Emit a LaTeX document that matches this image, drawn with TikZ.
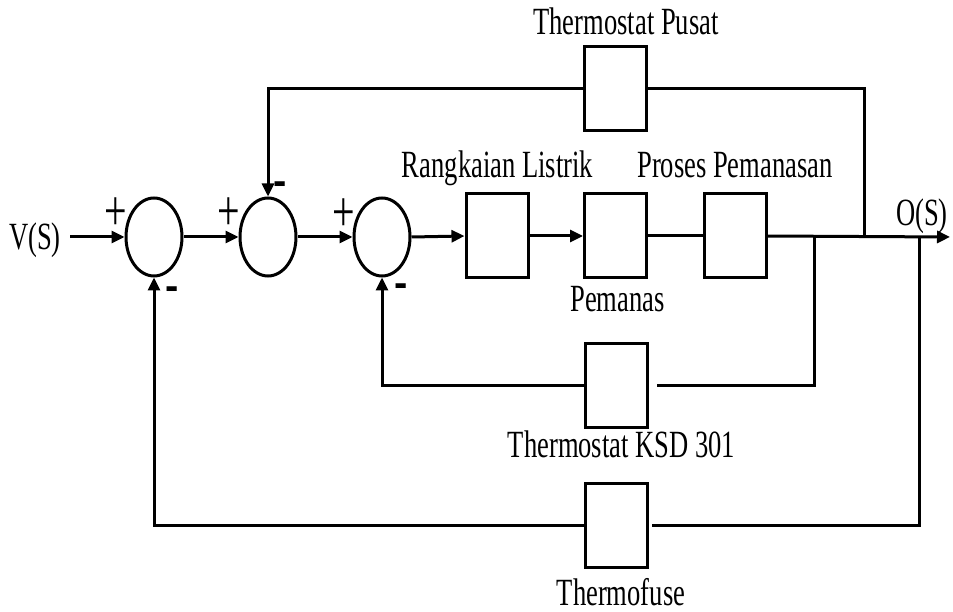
\documentclass[tikz,border=0pt]{standalone}
\usepackage{fontspec}
\setmainfont{Liberation Serif}[FakeStretch=0.69]
\newfontfamily\minusfont{Liberation Sans}
\usetikzlibrary{arrows.meta,shapes.geometric}
\begin{document}
\begin{tikzpicture}[x=1pt,y=-1pt,
  every node/.style={font=\fontsize{38.5}{42}\selectfont},
  line/.style={line width=3pt, line join=miter},
  arr/.style={line width=3pt, line join=miter, -{Triangle[length=13pt,width=12pt]}},
  sumj/.style={draw, ellipse, line width=3pt, minimum width=56pt, minimum height=78pt, inner sep=0pt},
  blk/.style={draw, rectangle, line width=3pt, minimum width=62pt, minimum height=84pt, inner sep=0pt},
  lbl/.style={anchor=base, inner sep=0pt},
  plus/.style={font=\fontsize{58}{58}\selectfont, inner sep=0pt},
  minus/.style={font=\minusfont\bfseries\fontsize{40}{40}\selectfont, inner sep=0pt}
]
\useasboundingbox (0,0) rectangle (953,612);

% summing junctions
\node[sumj] (c1) at (154,237) {};
\node[sumj] (c2) at (268,237) {};
\node[sumj] (c3) at (382,237) {};

% forward blocks
\node[blk] (b1) at (497,236) {};
\node[blk] (b2) at (615.5,236) {};
\node[blk] (b3) at (735,236) {};

% feedback blocks
\node[blk] (pusat) at (615,88.5) {};
\node[blk] (ksd) at (616,385) {};
\node[blk] (fuse) at (616.5,525) {};

% terminals and branch points
\node[lbl] (vin) at (35,250) {V(S)};
\coordinate (vstart) at (70,237);
\node[lbl] (vout) at (922,226) {O(S)};
\coordinate (oend) at (950,237);
\coordinate (p1) at (814,237);
\coordinate (p2) at (864,237);
\coordinate (p3) at (919,237);

% labels
\node[lbl] (lpusat) at (626,35) {Thermostat Pusat};
\node[lbl] (lb1) at (497.5,178) {Rangkaian Listrik};
\node[lbl] (lb3) at (735,178) {Proses Pemanasan};
\node[lbl] (lb2) at (617.5,312) {Pemanas};
\node[lbl] (lksd) at (621.5,457) {Thermostat KSD 301};
\node[lbl] (lfuse) at (621,605) {Thermofuse};

% signs
\node[plus] (s1) at (116,214) {+};
\node[plus] (s2) at (229,214) {+};
\node[plus] (s3) at (344,215) {+};
\node[minus] (m1) at (172,293) {-};
\node[minus] (m2) at (280,188) {-};
\node[minus] (m3) at (401,290) {-};

% forward path
\draw[arr] (vstart) -- (c1.west);
\draw[arr] (c1.east) -- (c2.west);
\draw[arr] (c2.east) -- (c3.west);
\draw[arr] (c3.east) -- (b1.west);
\draw[arr] (b1.east) -- (b2.west);
\draw[line] (b2.east) -- (b3.west);
\draw[arr] (b3.east) -- (oend);

% feedback: thermostat pusat
\draw[line] (p2) |- (pusat.east);
\draw[arr] (pusat.west) -| (c2.north);
% feedback: KSD 301
\draw[line, shorten >=8pt] (p1) |- (ksd.east);
\draw[arr] (ksd.west) -| (c3.south);
% feedback: thermofuse
\draw[line, shorten >=3pt] (p3) |- (fuse.east);
\draw[arr] (fuse.west) -| (c1.south);
\end{tikzpicture}
\end{document}
